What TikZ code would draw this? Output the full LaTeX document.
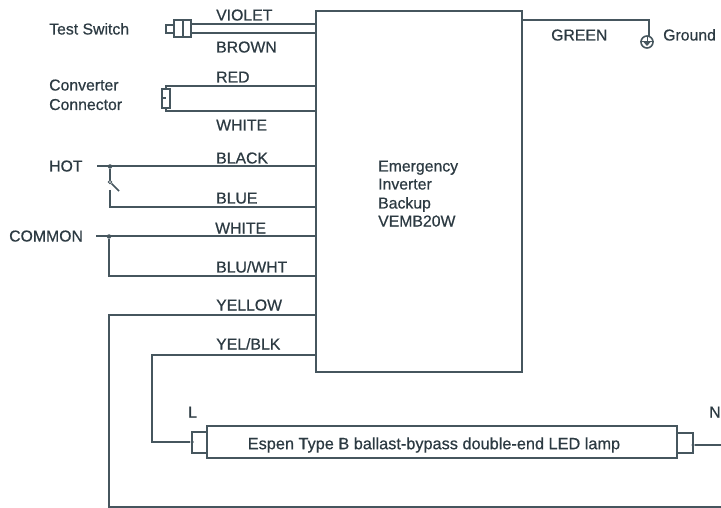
\documentclass[tikz,border=0pt]{standalone}
\usepackage{fontspec}
\setmainfont{Liberation Sans}
\newfontfamily\lblfont[RawFeature={embolden=0.6}]{Liberation Sans}
\definecolor{wirec}{HTML}{46565E}
\definecolor{textc}{HTML}{2C3A42}
\tikzset{
  wire/.style={draw=wirec,line width=2pt},
  lbl/.style={anchor=base west,inner sep=0pt,text=textc,font=\lblfont\fontsize{15.8}{18}\selectfont},
  blockbox/.style={draw=wirec,line width=1.6pt,inner sep=0pt,minimum width=#1},
  blockbox/.default=0pt,
  junction/.style={circle,fill=wirec,inner sep=0pt,minimum size=4.5pt},
  pivot/.style={circle,draw=wirec,line width=1pt,fill=white,inner sep=0pt,minimum size=3.5pt}
}
\begin{document}
\begin{tikzpicture}[x=1pt,y=-1pt]
\useasboundingbox (0,0) rectangle (721,508);
% main block
\node[blockbox=206pt,minimum height=361pt] (main) at (419,191.5) {};
% labels
\node[lbl] (tsw) at (49,34.5) {Test Switch};
\node[lbl] (conv1) at (49,90.5) {Converter};
\node[lbl] (conv2) at (49,110) {Connector};
\node[lbl] (hot) at (49,171.5) {HOT};
\node[lbl] (common) at (9,241.5) {COMMON};
\node[lbl] at (216,20.5) {VIOLET};
\node[lbl] at (216,52.5) {BROWN};
\node[lbl] at (216,82.5) {RED};
\node[lbl] at (216,130.5) {WHITE};
\node[lbl] at (216,163.5) {BLACK};
\node[lbl] at (216,203.5) {BLUE};
\node[lbl] at (215,233.5) {WHITE};
\node[lbl] at (216,272.5) {BLU/WHT};
\node[lbl] at (216,310.5) {YELLOW};
\node[lbl] at (216,349.5) {YEL/BLK};
\node[lbl] at (551,40.5) {GREEN};
\node[lbl] (gndl) at (663,40.5) {Ground};
\node[lbl] at (378,171.5) {Emergency};
\node[lbl] at (378,189.5) {Inverter};
\node[lbl] at (378,208.5) {Backup};
\node[lbl] at (378,226.5) {VEMB20W};
\node[lbl] at (188,417.5) {L};
\node[lbl] at (709,417.5) {N};
% test switch
\node[blockbox,minimum width=17pt,minimum height=17pt] (tsbody) at (182.5,28.5) {};
\node[blockbox,minimum width=8pt,minimum height=8pt] (tstip) at (170,29) {};
\draw[wire] (tsbody.north) -- (tsbody.south);
\coordinate (violetw) at (191,24);
\coordinate (brownw) at (191,33.5);
\draw[wire] (violetw) -- (violetw -| main.west);
\draw[wire] (brownw) -- (brownw -| main.west);
% converter connector
\node[blockbox,minimum width=8pt,minimum height=19pt] (cc) at (166,98.5) {};
\draw[wire] (cc.west) -- (cc.center);
\coordinate (redw) at (166,86);
\coordinate (whitew) at (166,111);
\draw[wire] (cc.north) -- (redw) -- (redw -| main.west);
\draw[wire] (cc.south) -- (whitew) -- (whitew -| main.west);
% hot
\coordinate (hotw) at (97,166.5);
\node[junction] (hj) at (110,166.5) {};
\node[pivot] (sw) at (110,182) {};
\coordinate (swtip) at (119,191);
\coordinate (swlow) at (110,190);
\coordinate (bluew) at (110,207);
\draw[wire] (hotw) -- (hotw -| main.west);
\draw[wire] (hj) -- (sw);
\draw[wire,line width=1.5pt] (sw) -- (swtip);
\draw[wire] (swlow) -- (bluew) -- (bluew -| main.west);
% common
\coordinate (comw) at (96,236.5);
\node[junction] (cj) at (109,236.5) {};
\coordinate (bwh) at (109,276);
\draw[wire] (comw) -- (comw -| main.west);
\draw[wire] (cj) -- (bwh) -- (bwh -| main.west);
% lamp
\node[blockbox,minimum width=470pt,minimum height=32pt] (lamp) at (442,442) {};
\node[lbl,anchor=center,font=\lblfont\fontsize{16.3}{18}\selectfont] at (434,445) {Espen Type B ballast-bypass double-end LED lamp};
\node[blockbox,minimum width=15pt,minimum height=20.5pt] (capl) at (199.5,442.5) {};
\node[blockbox,minimum width=16pt,minimum height=20pt] (capr) at (685,443) {};
\node[junction,minimum size=3.5pt] (jl) at (192,442) {};
\node[junction,minimum size=3.5pt] (jr) at (693,445) {};
% yellow
\coordinate (yw) at (109,315);
\coordinate (yb) at (109,507);
\coordinate (ye) at (721,507);
\draw[wire] (yw -| main.west) -- (yw) -- (yb) -- (ye);
% yel/blk
\coordinate (ybw) at (152,354.7);
\coordinate (ybl) at (152,442);
\draw[wire] (ybw -| main.west) -- (ybw) -- (ybl) -- (jl);
% neutral
\coordinate (nw) at (721,445);
\draw[wire] (jr) -- (nw);
% ground
\coordinate (gnt) at (649,20);
\node[circle,draw=wirec,line width=1.6pt,inner sep=0pt,minimum size=12pt] (gnd) at (647,42) {};
\draw[wire,line width=1.2pt] (gnt -| main.east) -- (gnt) -- (649,36);
\draw[wire,line width=1pt] (gnd.west) -- (gnd.east);
\draw[wire,line width=1pt] (647,36) -- (647,42);
\fill[wirec] (643.5,42) -- (650.5,42) -- (647,46) -- cycle;
\end{tikzpicture}
\end{document}
